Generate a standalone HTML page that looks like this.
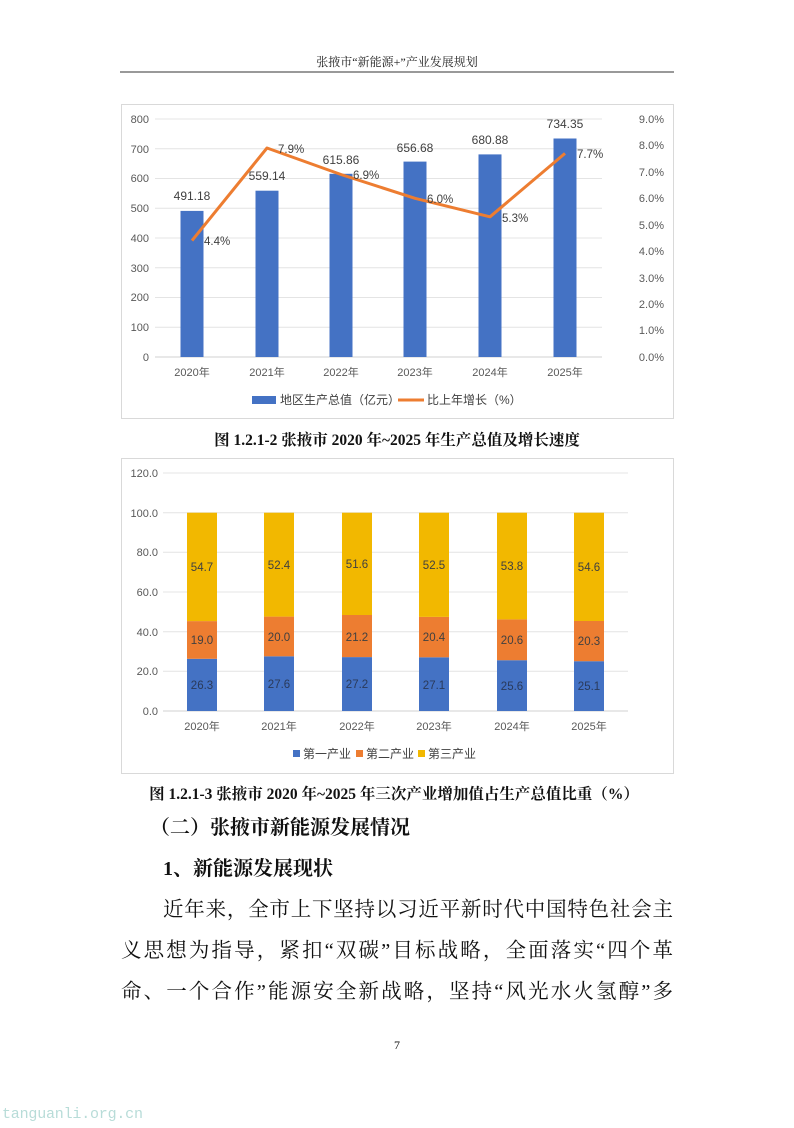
<!DOCTYPE html>
<html><head><meta charset="utf-8"><style>
body{margin:0;background:#fff;}
svg text{font-family:"Liberation Sans","Noto Sans CJK SC",sans-serif;}
.s{font-family:"Liberation Serif","Noto Serif CJK SC",serif !important;}
</style></head><body>
<svg width="794" height="1123" viewBox="0 0 794 1123" xmlns="http://www.w3.org/2000/svg">
<text x="397" y="66" text-anchor="middle" font-size="12" class="s" fill="#222">张掖市“新能源+”产业发展规划</text>
<line x1="120" y1="72" x2="674" y2="72" stroke="#333" stroke-width="1"/>

<!-- Chart 1 -->
<rect x="121.5" y="104.5" width="552" height="314" fill="#fff" stroke="#d9d9d9"/>
<g stroke="#e4e4e4" stroke-width="1">
<line x1="155" x2="602" y1="119" y2="119"/><line x1="155" x2="602" y1="148.75" y2="148.75"/>
<line x1="155" x2="602" y1="178.5" y2="178.5"/><line x1="155" x2="602" y1="208.25" y2="208.25"/>
<line x1="155" x2="602" y1="238" y2="238"/><line x1="155" x2="602" y1="267.75" y2="267.75"/>
<line x1="155" x2="602" y1="297.5" y2="297.5"/><line x1="155" x2="602" y1="327.25" y2="327.25"/>
</g>
<line x1="155" x2="602" y1="357" y2="357" stroke="#d0d0d0"/>
<g font-size="11" fill="#595959" text-anchor="end">
<text x="149" y="123">800</text><text x="149" y="153">700</text><text x="149" y="182">600</text><text x="149" y="212">500</text>
<text x="149" y="242">400</text><text x="149" y="272">300</text><text x="149" y="301">200</text><text x="149" y="331">100</text><text x="149" y="361">0</text>
</g>
<g font-size="11" fill="#595959" text-anchor="end">
<text x="664" y="123">9.0%</text><text x="664" y="149">8.0%</text><text x="664" y="176">7.0%</text><text x="664" y="202">6.0%</text>
<text x="664" y="229">5.0%</text><text x="664" y="255">4.0%</text><text x="664" y="282">3.0%</text><text x="664" y="308">2.0%</text>
<text x="664" y="334">1.0%</text><text x="664" y="361">0.0%</text>
</g>
<g fill="#4472c4">
<rect x="180.5" y="210.9" width="23" height="146.1"/>
<rect x="255.5" y="190.7" width="23" height="166.3"/>
<rect x="329.5" y="173.8" width="23" height="183.2"/>
<rect x="403.5" y="161.6" width="23" height="195.4"/>
<rect x="478.5" y="154.4" width="23" height="202.6"/>
<rect x="553.5" y="138.5" width="23" height="218.5"/>
</g>
<g font-size="12" fill="#404040" text-anchor="middle">
<text x="192" y="200">491.18</text><text x="267" y="180">559.14</text><text x="341" y="164">615.86</text>
<text x="415" y="152">656.68</text><text x="490" y="144">680.88</text><text x="565" y="128">734.35</text>
</g>
<polyline points="192,240.6 267,148 341,174.5 415,198.3 490,216.8 565,153.4" fill="none" stroke="#ed7d31" stroke-width="3" stroke-linejoin="round"/>
<g font-size="11.5" fill="#404040">
<text x="204" y="245">4.4%</text><text x="278" y="153">7.9%</text><text x="353" y="179">6.9%</text>
<text x="427" y="203">6.0%</text><text x="502" y="222">5.3%</text><text x="577" y="158">7.7%</text>
</g>
<g font-size="11" fill="#595959" text-anchor="middle">
<text x="192" y="376">2020年</text><text x="267" y="376">2021年</text><text x="341" y="376">2022年</text>
<text x="415" y="376">2023年</text><text x="490" y="376">2024年</text><text x="565" y="376">2025年</text>
</g>
<rect x="252" y="396" width="24" height="8" fill="#4472c4"/>
<text x="280" y="404" font-size="12" fill="#404040">地区生产总值（亿元）</text>
<line x1="398" y1="400" x2="424" y2="400" stroke="#ed7d31" stroke-width="3"/>
<text x="427" y="404" font-size="12" fill="#404040">比上年增长（%）</text>

<text x="397" y="445" text-anchor="middle" font-size="15.5" font-weight="bold" class="s" fill="#111">图 1.2.1-2  张掖市 2020 年~2025 年生产总值及增长速度</text>

<!-- Chart 2 -->
<rect x="121.5" y="458.5" width="552" height="315" fill="#fff" stroke="#d9d9d9"/>
<g stroke="#e4e4e4">
<line x1="163" x2="628" y1="473" y2="473"/><line x1="163" x2="628" y1="512.7" y2="512.7"/>
<line x1="163" x2="628" y1="552.3" y2="552.3"/><line x1="163" x2="628" y1="592" y2="592"/>
<line x1="163" x2="628" y1="631.7" y2="631.7"/><line x1="163" x2="628" y1="671.3" y2="671.3"/>
</g>
<line x1="163" x2="628" y1="711" y2="711" stroke="#d0d0d0"/>
<g font-size="11" fill="#595959" text-anchor="end">
<text x="158" y="477">120.0</text><text x="158" y="517">100.0</text><text x="158" y="556">80.0</text><text x="158" y="596">60.0</text>
<text x="158" y="636">40.0</text><text x="158" y="675">20.0</text><text x="158" y="715">0.0</text>
</g>
<g>
<rect x="187" y="658.8" width="30" height="52.2" fill="#4472c4"/><rect x="187" y="621.1" width="30" height="37.7" fill="#ed7d31"/><rect x="187" y="512.7" width="30" height="108.4" fill="#f2b800"/>
<rect x="264" y="656.3" width="30" height="54.7" fill="#4472c4"/><rect x="264" y="616.6" width="30" height="39.7" fill="#ed7d31"/><rect x="264" y="512.7" width="30" height="103.9" fill="#f2b800"/>
<rect x="342" y="657.1" width="30" height="53.9" fill="#4472c4"/><rect x="342" y="615.0" width="30" height="42.1" fill="#ed7d31"/><rect x="342" y="512.7" width="30" height="102.3" fill="#f2b800"/>
<rect x="419" y="657.3" width="30" height="53.7" fill="#4472c4"/><rect x="419" y="616.9" width="30" height="40.4" fill="#ed7d31"/><rect x="419" y="512.7" width="30" height="104.2" fill="#f2b800"/>
<rect x="497" y="660.2" width="30" height="50.8" fill="#4472c4"/><rect x="497" y="619.4" width="30" height="40.8" fill="#ed7d31"/><rect x="497" y="512.7" width="30" height="106.7" fill="#f2b800"/>
<rect x="574" y="661.2" width="30" height="49.8" fill="#4472c4"/><rect x="574" y="621.0" width="30" height="40.2" fill="#ed7d31"/><rect x="574" y="512.7" width="30" height="108.3" fill="#f2b800"/>
</g>
<g font-size="11.5" fill="#404040" text-anchor="middle">
<text x="202" y="571">54.7</text><text x="279" y="569">52.4</text><text x="357" y="568">51.6</text><text x="434" y="569">52.5</text><text x="512" y="570">53.8</text><text x="589" y="571">54.6</text>
<text x="202" y="644">19.0</text><text x="279" y="641">20.0</text><text x="357" y="641">21.2</text><text x="434" y="641">20.4</text><text x="512" y="644">20.6</text><text x="589" y="645">20.3</text>
</g>
<g font-size="11.5" fill="#2a3a5a" text-anchor="middle">
<text x="202" y="689">26.3</text><text x="279" y="688">27.6</text><text x="357" y="688">27.2</text><text x="434" y="689">27.1</text><text x="512" y="690">25.6</text><text x="589" y="690">25.1</text>
</g>
<g font-size="11" fill="#595959" text-anchor="middle">
<text x="202" y="730">2020年</text><text x="279" y="730">2021年</text><text x="357" y="730">2022年</text>
<text x="434" y="730">2023年</text><text x="512" y="730">2024年</text><text x="589" y="730">2025年</text>
</g>
<rect x="293" y="750" width="7" height="7" fill="#4472c4"/><text x="303" y="758" font-size="12" fill="#404040">第一产业</text>
<rect x="356" y="750" width="7" height="7" fill="#ed7d31"/><text x="366" y="758" font-size="12" fill="#404040">第二产业</text>
<rect x="418" y="750" width="7" height="7" fill="#f2b800"/><text x="428" y="758" font-size="12" fill="#404040">第三产业</text>

<text x="394" y="799" text-anchor="middle" font-size="15.5" font-weight="bold" class="s" fill="#111">图 1.2.1-3  张掖市 2020 年~2025 年三次产业增加值占生产总值比重（%）</text>

<text x="150" y="834" font-size="20" font-weight="bold" class="s" fill="#111">（二）张掖市新能源发展情况</text>
<text x="163" y="875" font-size="20" font-weight="bold" class="s" fill="#111">1、新能源发展现状</text>
<text x="163" y="916" font-size="20.5" class="s" fill="#111" textLength="510">近年来，全市上下坚持以习近平新时代中国特色社会主</text>
<text x="121" y="957" font-size="20.5" class="s" fill="#111" textLength="552">义思想为指导，紧扣“双碳”目标战略，全面落实“四个革</text>
<text x="121" y="998" font-size="20.5" class="s" fill="#111" textLength="552">命、一个合作”能源安全新战略，坚持“风光水火氢醇”多</text>
<text x="397" y="1049" text-anchor="middle" font-size="12" class="s" fill="#111">7</text>
<text x="2" y="1118" font-size="15" fill="#b8dcd8" style="font-family:'Liberation Mono',monospace" textLength="141">tanguanli.org.cn</text>
</svg>
</body></html>
